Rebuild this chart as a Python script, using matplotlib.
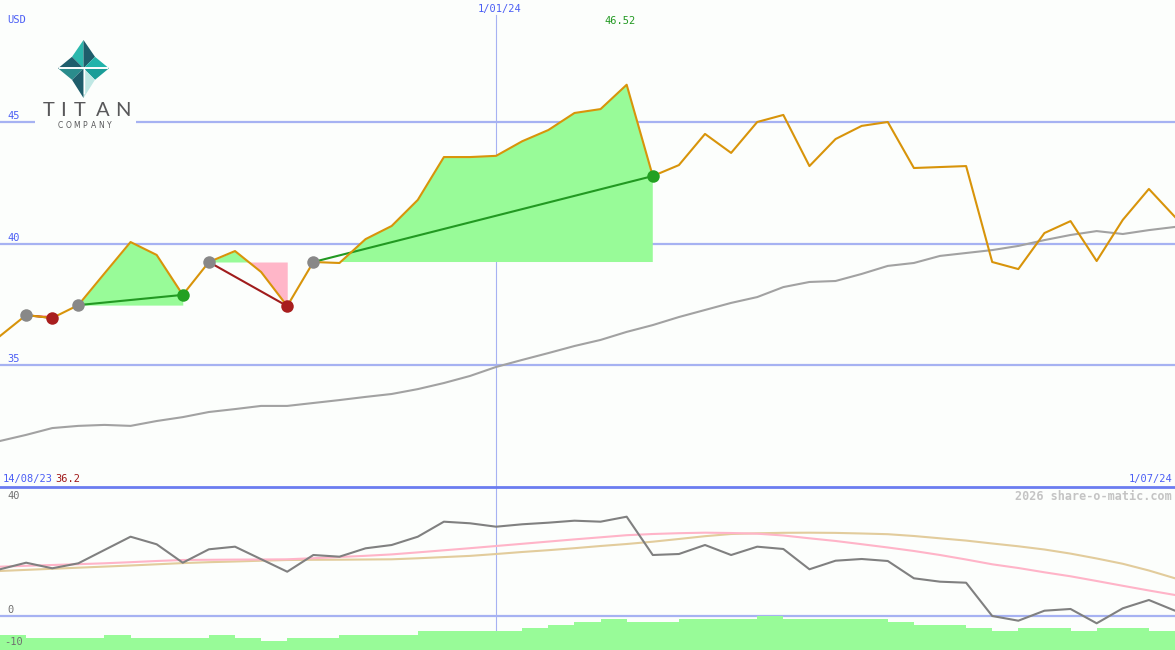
import numpy as np
import matplotlib.pyplot as plt
from matplotlib.patches import Polygon, Rectangle
from matplotlib.lines import Line2D

W, H = 1175, 650
SPLIT = 487  # pixel row where the price panel ends

# weekly closes, USD
price = [36.2, 37.06, 36.94, 37.47, 38.77, 40.06, 39.53, 37.89, 39.24, 39.69,
         38.83, 37.43, 39.24, 39.20, 40.18, 40.72, 41.79, 43.55, 43.55, 43.60,
         44.20, 44.66, 45.36, 45.52, 46.52, 42.77, 43.22, 44.50, 43.72, 44.99,
         45.28, 43.18, 44.29, 44.83, 44.99, 43.10, 43.14, 43.18, 39.24, 38.95,
         40.43, 40.92, 39.28, 40.97, 42.24, 41.09]
# long moving average
ma_long = [31.89, 32.14, 32.42, 32.51, 32.55, 32.51, 32.71, 32.87, 33.08, 33.20,
           33.33, 33.33, 33.45, 33.57, 33.70, 33.82, 34.02, 34.27, 34.56, 34.93,
           35.22, 35.50, 35.79, 36.04, 36.37, 36.65, 36.98, 37.27, 37.56, 37.80,
           38.21, 38.42, 38.46, 38.75, 39.08, 39.20, 39.49, 39.61, 39.73, 39.90,
           40.14, 40.35, 40.51, 40.39, 40.55, 40.68]
# lower panel indicator lines
osc = [16.39, 18.70, 16.74, 18.49, 23.16, 27.82, 25.16, 18.70, 23.40, 24.32,
       19.93, 15.54, 21.40, 20.81, 23.75, 24.91, 27.82, 33.09, 32.53, 31.33,
       32.18, 32.74, 33.44, 33.09, 34.84, 21.40, 21.75, 24.91, 21.40, 24.32,
       23.51, 16.39, 19.40, 20.00, 19.30, 13.23, 12.04, 11.68, 0.00, -1.65,
       1.86, 2.46, -2.56, 2.70, 5.61, 1.86]
osc_fast = [17.30, 17.61, 17.89, 18.18, 18.49, 18.88, 19.30, 19.65, 19.72, 19.79,
            19.82, 19.89, 20.28, 20.70, 21.12, 21.61, 22.32, 23.05, 23.79, 24.56,
            25.33, 26.11, 26.88, 27.61, 28.35, 28.77, 29.05, 29.23, 29.12, 28.88,
            28.25, 27.26, 26.32, 25.19, 24.04, 22.81, 21.40, 19.82, 18.14, 16.84,
            15.33, 13.93, 12.28, 10.60, 8.95, 7.37]
osc_slow = [15.79, 16.18, 16.56, 16.95, 17.33, 17.72, 18.14, 18.56, 18.88, 19.12,
            19.40, 19.65, 19.72, 19.75, 19.82, 19.89, 20.25, 20.67, 21.09, 21.75,
            22.46, 23.09, 23.79, 24.56, 25.26, 26.07, 27.02, 28.00, 28.77, 29.02,
            29.19, 29.23, 29.16, 28.95, 28.70, 28.07, 27.26, 26.46, 25.44, 24.46,
            23.33, 21.89, 20.18, 18.32, 15.96, 13.23]
bars = [-6.7, -7.6, -7.6, -7.6, -6.7, -7.6, -7.6, -7.6, -6.7, -7.6,
        -8.8, -7.6, -7.6, -6.7, -6.7, -6.7, -5.3, -5.3, -5.3, -5.3,
        -4.1, -3.2, -2.2, -1.1, -2.2, -2.2, -1.1, -1.1, -1.1, 0.0,
        -1.1, -1.1, -1.1, -1.1, -2.2, -3.2, -3.2, -4.3, -5.3, -4.3,
        -4.3, -5.3, -4.3, -4.3, -5.3]
# (entry index, exit index)
trades = [(1, 2), (3, 7), (8, 11), (12, 25)]

price_ticks = [45, 40, 35]
osc_ticks = [40, 0, -10]
date_start, date_mid, date_end = '14/08/23', '1/01/24', '1/07/24'
mid_index = 19
low_label, high_label = '36.2', '46.52'

BG = '#fcfefc'
GRID = '#a6b2f2'
BLUE_TXT = '#4b5ef5'
PRICE_C = '#d8940a'
GREEN_FILL = '#98fb98'
PINK_FILL = '#ffb6c8'
MONO = 'DejaVu Sans Mono'

x = np.arange(len(price))
p = np.array(price)

fig = plt.figure(figsize=(W / 100, H / 100), dpi=100, facecolor=BG)
ax = fig.add_axes([0, (H - SPLIT) / H, 1, SPLIT / H])
axl = fig.add_axes([0, 0, 1, (H - SPLIT) / H])
for a in (ax, axl):
    a.set_facecolor(BG)
    a.set_xlim(0, len(price) - 1)
    a.set_xticks([])
    a.set_yticks([])
    for s in a.spines.values():
        s.set_visible(False)
ax.set_ylim(30, 50)
axl.set_ylim(-11.93, 45.26)

# grid
for v in price_ticks:
    ax.axhline(v, color=GRID, lw=1.6, zorder=0)
ax.axvline(mid_index, ymax=1 - 15 / SPLIT, color=GRID, lw=0.8, zorder=0)
axl.axvline(mid_index, color=GRID, lw=0.8, zorder=0)
axl.axhline(0, color=GRID, lw=1.6, zorder=0)
# panel separator
fig.add_artist(Line2D([0, 1], [1 - SPLIT / H] * 2, transform=fig.transFigure,
                      color='#6b7cf0', lw=2.0, zorder=10))

# trades: shaded gain/loss areas and entry->exit lines
for a, b in trades:
    entry = price[a]
    xs = x[a:b + 1]
    ys = p[a:b + 1]
    ax.fill_between(xs, entry, ys, where=ys >= entry, interpolate=True,
                    color=GREEN_FILL, lw=0, zorder=1)
    ax.fill_between(xs, entry, ys, where=ys < entry, interpolate=True,
                    color=PINK_FILL, lw=0, zorder=1)
    win = price[b] > entry
    ax.plot([a, b], [entry, price[b]], color='#229922' if win else '#a01c1c',
            lw=1.5, zorder=2)

ax.plot(x, ma_long, color='#a2a2a2', lw=1.5, zorder=2)
ax.plot(x, price, color=PRICE_C, lw=1.5, zorder=3)

for a, b in trades:
    win = price[b] > price[a]
    ax.plot(a, price[a], 'o', ms=9, color='#888888', mec='none', zorder=4)
    ax.plot(b, price[b], 'o', ms=9, color='#22a022' if win else '#a81e1e',
            mec='none', zorder=4)

# lower panel
low = axl.get_ylim()[0]
axl.bar(x[:len(bars)], np.array(bars) - low, bottom=low, width=1, align='edge',
        color=GREEN_FILL, lw=0, zorder=3)
axl.plot(x, osc_slow, color='#e2cc9c', lw=1.5, zorder=2)
axl.plot(x, osc_fast, color='#ffb4c8', lw=1.5, zorder=2)
axl.plot(x, osc, color='#808080', lw=1.5, zorder=2)


def ftext(px, py, s, **kw):
    kw.setdefault('family', MONO)
    kw.setdefault('fontsize', 7.5)
    kw.setdefault('va', 'center')
    fig.text(px / W, 1 - py / H, s, **kw)


ftext(7, 20, 'USD', color=BLUE_TXT)
for v, py in zip(price_ticks, [116, 238, 359]):
    ftext(7, py, str(v), color=BLUE_TXT)
ftext(500, 9, date_mid, color=BLUE_TXT, ha='center')
ftext(620, 21, high_label, color='#229922', ha='center')
ftext(3, 479, date_start, color=BLUE_TXT)
ftext(55, 479, low_label, color='#a01818')
ftext(1172, 479, date_end, color=BLUE_TXT, ha='right')
ftext(1172, 496, '2026 share-o-matic.com', color='#c4c4c4', ha='right',
      fontsize=8.5, fontweight='bold')
for v, px, py in zip(osc_ticks, [7, 7, 4], [496, 610, 642]):
    ftext(px, py, str(v), color='#707070')

# logo
lax = fig.add_axes([35 / W, 1 - 135 / H, 101 / W, 105 / H])
lax.set_xlim(35, 136)
lax.set_ylim(135, 30)
lax.axis('off')
lax.add_patch(Rectangle((35, 30), 101, 105, color=BG, zorder=0))
cx, cy = 83.5, 68.3
tip = {'t': (cx, 40), 'b': (cx, 98), 'l': (58, cy), 'r': (109, cy)}
d = 11.5
inner = {'tl': (cx - d, cy - d), 'tr': (cx + d, cy - d),
         'bl': (cx - d, cy + d), 'br': (cx + d, cy + d)}
facets = [('t', 'tl', '#2bb8ad'), ('t', 'tr', '#1e5d6b'),
          ('r', 'tr', '#22b3aa'), ('r', 'br', '#1a9d98'),
          ('b', 'br', '#bfe8e4'), ('b', 'bl', '#1e5d6b'),
          ('l', 'bl', '#2a8c8c'), ('l', 'tl', '#1e5d6b')]
for tk, ik, col in facets:
    lax.add_patch(Polygon([(cx, cy), tip[tk], inner[ik]], closed=True,
                          color=col, lw=0, zorder=1))
lax.plot([60, 107], [cy, cy], color='white', lw=1.4, zorder=2)
lax.plot([cx, cx], [cy, 93], color='white', lw=1.0, zorder=2)
for ch, lx in zip('TITAN', [48.3, 63.3, 80, 102.5, 122.5]):
    lax.text(lx, 110.5, ch, ha='center', va='center', fontsize=14.5,
             family='Lato', color='#58585a', zorder=2)
for ch, lx in zip('COMPANY', np.linspace(60.5, 109.5, 7)):
    lax.text(lx, 125, ch, ha='center', va='center', fontsize=5.5,
             family='DejaVu Sans', color='#58585a', zorder=2)

fig.savefig('out.png', dpi=100, facecolor=BG)
